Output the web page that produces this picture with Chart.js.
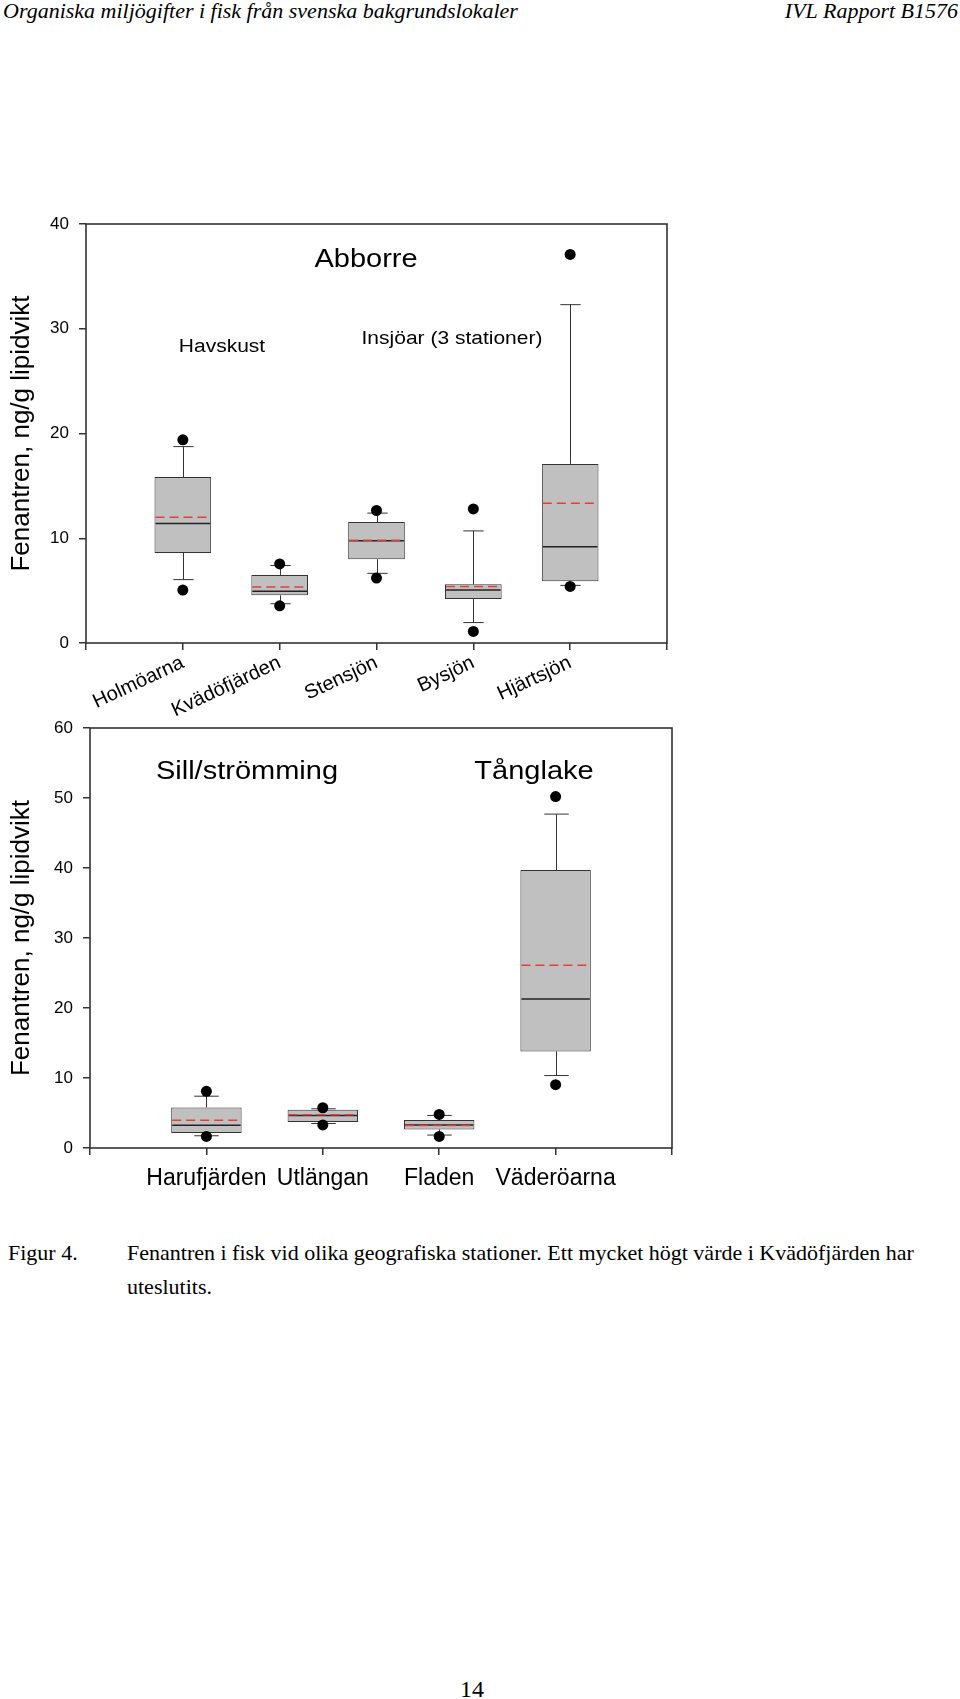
<!DOCTYPE html>
<html lang="sv">
<head>
  <meta charset="UTF-8" />
  <title>Fenantren i fisk</title>
  <script src="https://cdn.jsdelivr.net/npm/chart.js"></script>
  <style>
    html, body { margin: 0; padding: 0; background: #fff; }
    #page { position: relative; width: 960px; height: 1699px; overflow: hidden; background: #fff; }
    .serif { position: absolute; font-family: 'Liberation Serif', 'Times New Roman', serif; line-height: 1; white-space: nowrap; color: #000; }
    .sans { position: absolute; font-family: 'Liberation Sans', Arial, sans-serif; line-height: 1; white-space: nowrap; color: #000;
            transform: translateX(-50%) scaleY(0.88); transform-origin: 50% 84.65%; }
    canvas { position: absolute; left: 0; }
  </style>
</head>
<body>
<div id="page">
  <div class="serif" style="left:3px; top:0px; font-size:22px; font-style:italic;">Organiska miljögifter i fisk från svenska bakgrundslokaler</div>
  <div class="serif" style="right:2px; top:0px; font-size:22px; font-style:italic;">IVL Rapport B1576</div>

  <canvas id="abborreChart" width="700" height="550" style="top:190px;"></canvas>
  <canvas id="kustChart" width="700" height="520" style="top:700px;"></canvas>

  <!-- texter inne i diagrammen -->
  <div class="sans" style="left:366px; top:243px; font-size:29px;">Abborre</div>
  <div class="sans" style="left:222px; top:334px; font-size:21px;">Havskust</div>
  <div class="sans" style="left:452px; top:326px; font-size:21px;">Insjöar (3 stationer)</div>
  <div class="sans" style="left:247px; top:755px; font-size:29px;">Sill/strömming</div>
  <div class="sans" style="left:534px; top:755px; font-size:29px;">Tånglake</div>

  <div class="serif" style="left:8px; top:1242px; font-size:22px;">Figur 4.</div>
  <div class="serif" style="left:127px; top:1236px; font-size:22px; line-height:34px;">Fenantren i fisk vid olika geografiska stationer. Ett mycket högt värde i Kvädöfjärden har<br>uteslutits.</div>
  <div class="serif" style="left:472px; top:1677px; font-size:24px; transform:translateX(-50%);">14</div>
</div>

<script>
  // Abborre (övre diagrammet)
  const abborreStations = ['Holmöarna', 'Kvädöfjärden', 'Stensjön', 'Bysjön', 'Hjärtsjön'];
  const abborreWhiskerLow = [6.05, 3.75, 6.65, 1.95, 5.5];
  const abborreQ1 = [8.6, 4.55, 8.0, 4.2, 5.9];
  const abborreMedian = [11.4, 4.95, 9.75, 5.05, 9.2];
  const abborreQ3 = [15.85, 6.5, 11.55, 5.6, 17.1];
  const abborreWhiskerHigh = [18.75, 7.4, 12.4, 10.7, 32.3];
  const abborreMean = [12.0, 5.35, 9.8, 5.4, 13.35];
  const abborreOutLow = [5.05, 3.55, 6.2, 1.1, 5.4];
  const abborreOutHigh = [19.4, 7.55, 12.65, 12.8, 37.1];
  const abborreYMax = 40;

  // Sill/strömming och tånglake (nedre diagrammet)
  const kustStations = ['Harufjärden', 'Utlängan', 'Fladen', 'Väderöarna'];
  const kustWhiskerLow = [1.75, 3.5, 1.85, 10.35];
  const kustQ1 = [2.15, 3.7, 2.65, 13.8];
  const kustMedian = [3.25, 4.65, 3.3, 21.3];
  const kustQ3 = [5.8, 5.45, 4.0, 39.7];
  const kustWhiskerHigh = [7.4, 5.6, 4.65, 47.7];
  const kustMean = [3.95, 4.75, 3.2, 26.1];
  const kustOutLow = [1.65, 3.3, 1.65, 9.05];
  const kustOutHigh = [8.1, 5.75, 4.8, 50.2];
  const kustYMax = 60;

  const SANS = "'Liberation Sans', Arial, sans-serif";

  // whiskers, median, medelvärde och ram
  const boxParts = {
    id: 'boxParts',
    beforeDatasetsDraw(chart, args, o) {
      const x = chart.scales.x, y = chart.scales.y, ctx = chart.ctx;
      const cap = (x.getPixelForValue(1) - x.getPixelForValue(0)) * o.capFrac / 2;
      ctx.save();
      ctx.strokeStyle = '#333';
      ctx.lineWidth = 1;
      o.lo.forEach((v, i) => {
        const px = Math.round(x.getPixelForValue(i + 1)) + 0.5;
        const yLo = y.getPixelForValue(o.lo[i]), yQ1 = y.getPixelForValue(o.q1[i]);
        const yHi = y.getPixelForValue(o.hi[i]), yQ3 = y.getPixelForValue(o.q3[i]);
        ctx.beginPath();
        ctx.moveTo(px, yQ1); ctx.lineTo(px, yLo);
        ctx.moveTo(px - cap, yLo); ctx.lineTo(px + cap, yLo);
        ctx.moveTo(px, yQ3); ctx.lineTo(px, yHi);
        ctx.moveTo(px - cap, yHi); ctx.lineTo(px + cap, yHi);
        ctx.stroke();
      });
      ctx.restore();
    },
    afterDatasetsDraw(chart, args, o) {
      const y = chart.scales.y, ctx = chart.ctx;
      const bars = chart.getDatasetMeta(1).data;
      ctx.save();
      o.median.forEach((v, i) => {
        const bar = bars[i + 1];
        const l = bar.x - bar.width / 2 + 1, r = bar.x + bar.width / 2 - 1;
        ctx.setLineDash([]);
        ctx.strokeStyle = '#222';
        ctx.lineWidth = 1.5;
        ctx.beginPath();
        ctx.moveTo(l, y.getPixelForValue(v)); ctx.lineTo(r, y.getPixelForValue(v));
        ctx.stroke();
        ctx.setLineDash([9, 5]);
        ctx.strokeStyle = '#e0403a';
        ctx.beginPath();
        ctx.moveTo(l, y.getPixelForValue(o.mean[i])); ctx.lineTo(r, y.getPixelForValue(o.mean[i]));
        ctx.stroke();
      });
      const a = chart.chartArea;
      ctx.setLineDash([]);
      ctx.strokeStyle = '#333';
      ctx.lineWidth = 1.6;
      ctx.strokeRect(a.left, a.top, a.right - a.left, a.bottom - a.top);
      ctx.restore();
    }
  };

  function boxChart(id, s) {
    const labels = ['', ...s.stations, ''];
    const outliers = [];
    s.stations.forEach((name, i) => {
      outliers.push({ x: name, y: s.outLow[i] });
      outliers.push({ x: name, y: s.outHigh[i] });
    });
    return new Chart(document.getElementById(id), {
      type: 'bar',
      data: {
        labels: labels,
        datasets: [
          {
            type: 'line',
            data: outliers,
            showLine: false,
            pointRadius: 5.5,
            pointBackgroundColor: '#000',
            pointBorderWidth: 0,
          },
          {
            data: [null, ...s.q1.map((q, i) => [q, s.q3[i]]), null],
            backgroundColor: '#c0c0c0',
            borderColor: '#333',
            borderWidth: 1,
            borderSkipped: false,
            categoryPercentage: 1,
            barPercentage: s.barPct,
          },
        ],
      },
      options: {
        responsive: false,
        animation: false,
        devicePixelRatio: 1,
        layout: { padding: { top: s.padTop, right: s.padRight, left: 0, bottom: 0 } },
        plugins: {
          legend: { display: false },
          tooltip: { enabled: false },
          boxParts: {
            lo: s.lo, q1: s.q1, median: s.median, q3: s.q3, hi: s.hi, mean: s.mean, capFrac: 0.21,
          },
        },
        scales: {
          x: {
            offset: false,
            grid: { offset: false, drawOnChartArea: false, drawTicks: true, tickLength: 7, color: '#333', lineWidth: 1.5 },
            border: { display: false },
            ticks: {
              autoSkip: false,
              minRotation: s.rotation,
              maxRotation: s.rotation,
              padding: s.xPad,
              color: '#000',
              font: { family: SANS, size: s.xFont },
            },
            afterFit(scale) { scale.height = s.xHeight; },
          },
          y: {
            min: 0,
            max: s.yMax,
            grid: { drawOnChartArea: false, drawTicks: true, tickLength: 7, color: '#333', lineWidth: 1.5 },
            border: { display: false },
            ticks: { stepSize: 10, padding: 10, color: '#000', font: { family: SANS, size: 17 } },
            title: {
              display: true,
              text: 'Fenantren, ng/g lipidvikt',
              color: '#000',
              font: { family: SANS, size: 26 },
              padding: { top: 6, bottom: 0 },
            },
            afterFit(scale) { scale.width = s.yWidth; },
          },
        },
      },
      plugins: [boxParts],
    });
  }

  boxChart('abborreChart', {
    stations: abborreStations, lo: abborreWhiskerLow, q1: abborreQ1, median: abborreMedian,
    q3: abborreQ3, hi: abborreWhiskerHigh, mean: abborreMean,
    outLow: abborreOutLow, outHigh: abborreOutHigh, yMax: abborreYMax,
    barPct: 0.585, rotation: 25, xFont: 20, xPad: 1, xHeight: 97, yWidth: 86, padTop: 34, padRight: 33,
  });

  boxChart('kustChart', {
    stations: kustStations, lo: kustWhiskerLow, q1: kustQ1, median: kustMedian,
    q3: kustQ3, hi: kustWhiskerHigh, mean: kustMean,
    outLow: kustOutLow, outHigh: kustOutHigh, yMax: kustYMax,
    barPct: 0.605, rotation: 0, xFont: 23, xPad: 10, xHeight: 72, yWidth: 90, padTop: 28, padRight: 28,
  });
</script>
</body>
</html>
